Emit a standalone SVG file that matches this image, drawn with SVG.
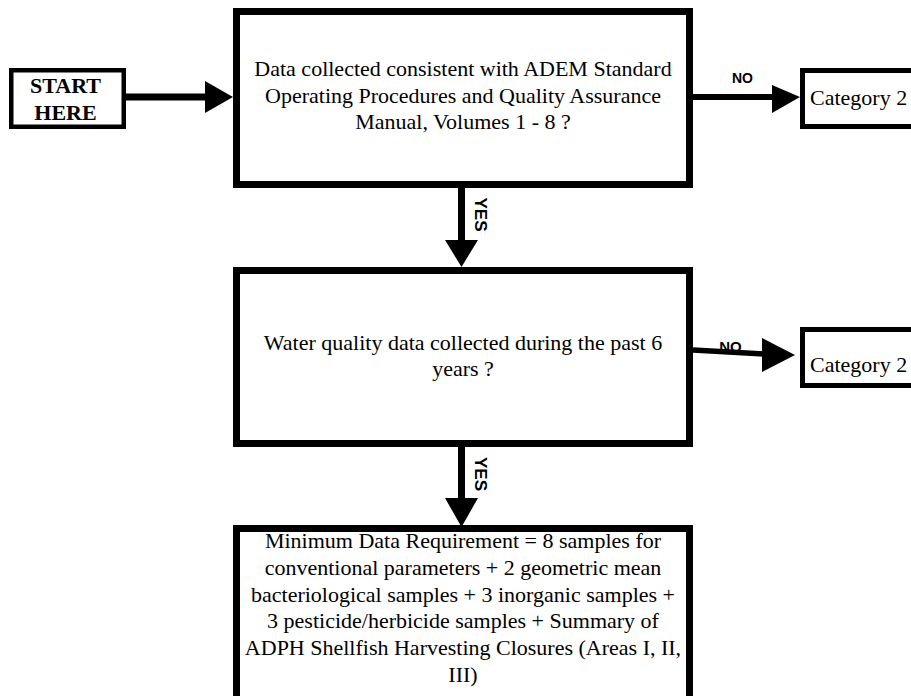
<svg xmlns="http://www.w3.org/2000/svg" width="911" height="696" viewBox="0 0 911 696">
<style>
.box{fill:#fff;stroke:#000;stroke-width:7}
.cat{fill:#fff;stroke:#000;stroke-width:5}
.start{fill:#fff;stroke:#000;stroke-width:4.5}
.t{font-family:"Liberation Serif","Times New Roman",serif;font-size:22px;fill:#000;text-anchor:middle}
.tl{font-family:"Liberation Serif","Times New Roman",serif;font-size:22px;fill:#000}
.sb{font-family:"Liberation Serif","Times New Roman",serif;font-size:22px;font-weight:bold;fill:#000;text-anchor:middle}
.lab{font-family:"Liberation Sans",Arial,sans-serif;font-weight:bold;fill:#000;text-anchor:middle}
.ln{stroke:#000;fill:none}
.ah{fill:#000}
</style>
<rect width="911" height="696" fill="#fff"/>
<g id="connectors">
<line class="ln" x1="126" y1="97" x2="206" y2="97" stroke-width="7"/>
<polygon class="ah" points="205,81 233,97 205,113"/>
<line class="ln" x1="693" y1="97" x2="773" y2="97" stroke-width="6"/>
<polygon class="ah" points="772,85 800,97 772,113"/>
<text class="lab" x="742.5" y="83" font-size="14">NO</text>
<line class="ln" x1="461.5" y1="188" x2="461.5" y2="241" stroke-width="7"/>
<polygon class="ah" points="445,240 478,240 461.5,267"/>
<text class="lab" font-size="17" transform="translate(475,214.5) rotate(90)" x="0" y="0">YES</text>
<line class="ln" x1="693" y1="350" x2="764" y2="354" stroke-width="5.5"/>
<polygon class="ah" points="762,338 795,355 762,372"/>
<text class="lab" x="730.5" y="352" font-size="15">NO</text>
<line class="ln" x1="461.5" y1="447" x2="461.5" y2="499" stroke-width="7"/>
<polygon class="ah" points="445,498 478,498 461.5,527"/>
<text class="lab" font-size="17" transform="translate(475,474) rotate(90)" x="0" y="0">YES</text>
</g>
<g id="start">
<rect class="start" x="11.25" y="70.25" width="112.5" height="56.5"/>
<text class="sb" x="65.5" y="93">START</text>
<text class="sb" x="65.5" y="120">HERE</text>
</g>
<g id="q1">
<rect class="box" x="236.5" y="11.5" width="453" height="173"/>
<text class="t" x="463" y="76">Data collected consistent with ADEM Standard</text>
<text class="t" x="463" y="103">Operating Procedures and Quality Assurance</text>
<text class="t" x="463" y="129">Manual, Volumes 1 - 8 ?</text>
</g>
<g id="cat1">
<rect class="cat" x="802.5" y="70.5" width="130" height="56"/>
<text class="tl" x="810" y="105">Category 2</text>
</g>
<g id="q2">
<rect class="box" x="236.5" y="270.5" width="453" height="173"/>
<text class="t" x="463" y="349.5">Water quality data collected during the past 6</text>
<text class="t" x="463" y="376">years ?</text>
</g>
<g id="cat2">
<rect class="cat" x="802.5" y="329.5" width="130" height="56"/>
<text class="tl" x="810" y="372">Category 2</text>
</g>
<g id="req">
<rect class="box" x="236.5" y="528.5" width="453" height="200"/>
<text class="t" x="463" y="548">Minimum Data Requirement = 8 samples for</text>
<text class="t" x="463" y="575">conventional parameters + 2 geometric mean</text>
<text class="t" x="463" y="601.5">bacteriological samples + 3 inorganic samples +</text>
<text class="t" x="463" y="628">3 pesticide/herbicide samples + Summary of</text>
<text class="t" x="463" y="655">ADPH Shellfish Harvesting Closures (Areas I, II,</text>
<text class="t" x="463" y="681.5">III)</text>
</g>
</svg>
